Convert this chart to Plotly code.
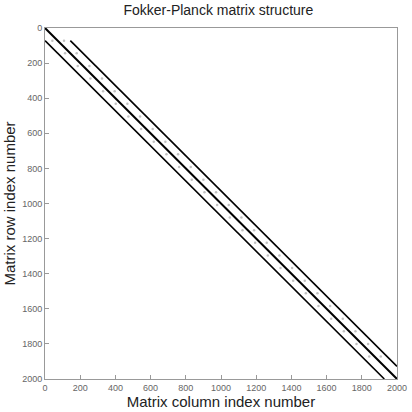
import plotly.graph_objects as go

# matrix size and the non-zero diagonals
n = 2000
diag_offsets = [0, 72, -72]          # column - row
diag_first_row = [0, 72, 72]
diag_last_row = [2000, 1928, 2000]
diag_widths = [2.0, 1.6, 1.6]

# sparse faint entries between the diagonals
block = 72
faint_offsets = [36, -30]

x_ticks = [0, 200, 400, 600, 800, 1000, 1200, 1400, 1600, 1800, 2000]

fig = go.Figure()

for off, r0, r1, w in zip(diag_offsets, diag_first_row, diag_last_row, diag_widths):
    fig.add_trace(go.Scatter(
        x=[r0 + off, r1 + off], y=[r0, r1], mode='lines',
        line=dict(color='black', width=w), showlegend=False, hoverinfo='skip'))

for off in faint_offsets:
    rows = [r for r in range(block, n - block, block)]
    fig.add_trace(go.Scatter(
        x=[r + off for r in rows], y=rows, mode='markers',
        marker=dict(color='rgba(150,150,150,0.6)', size=2.5, line=dict(width=0)),
        showlegend=False, hoverinfo='skip'))

font = 'Liberation Sans, Arial, sans-serif'
fig.update_layout(
    width=412, height=412,
    margin=dict(l=45, r=15, t=28, b=33, autoexpand=False),
    plot_bgcolor='white', paper_bgcolor='white',
    font=dict(family=font, color='#222'),
    title=dict(text='Fokker-Planck matrix structure', x=0.53, xanchor='center',
               y=0.987, yanchor='top', font=dict(size=14, color='#222')),
)
axis_style = dict(
    showgrid=False, zeroline=False, showline=True, mirror=True, automargin=False,
    linecolor='#999', linewidth=1, ticks='inside', ticklen=4, tickcolor='#999',
    tickfont=dict(size=9, color='#666'), tickvals=x_ticks,
)
fig.update_xaxes(range=[0, 2000], title=dict(text='Matrix column index number',
                 font=dict(size=15, color='#222'), standoff=1), **axis_style)
fig.update_yaxes(range=[2000, 0], title=dict(text='Matrix row index number',
                 font=dict(size=15, color='#222'), standoff=2), **axis_style)

# page body has a default 8px margin; drop it so the figure fills the window
fig.write_html("out.html", config={'displayModeBar': False},
               post_script="document.body.style.margin='0';")
